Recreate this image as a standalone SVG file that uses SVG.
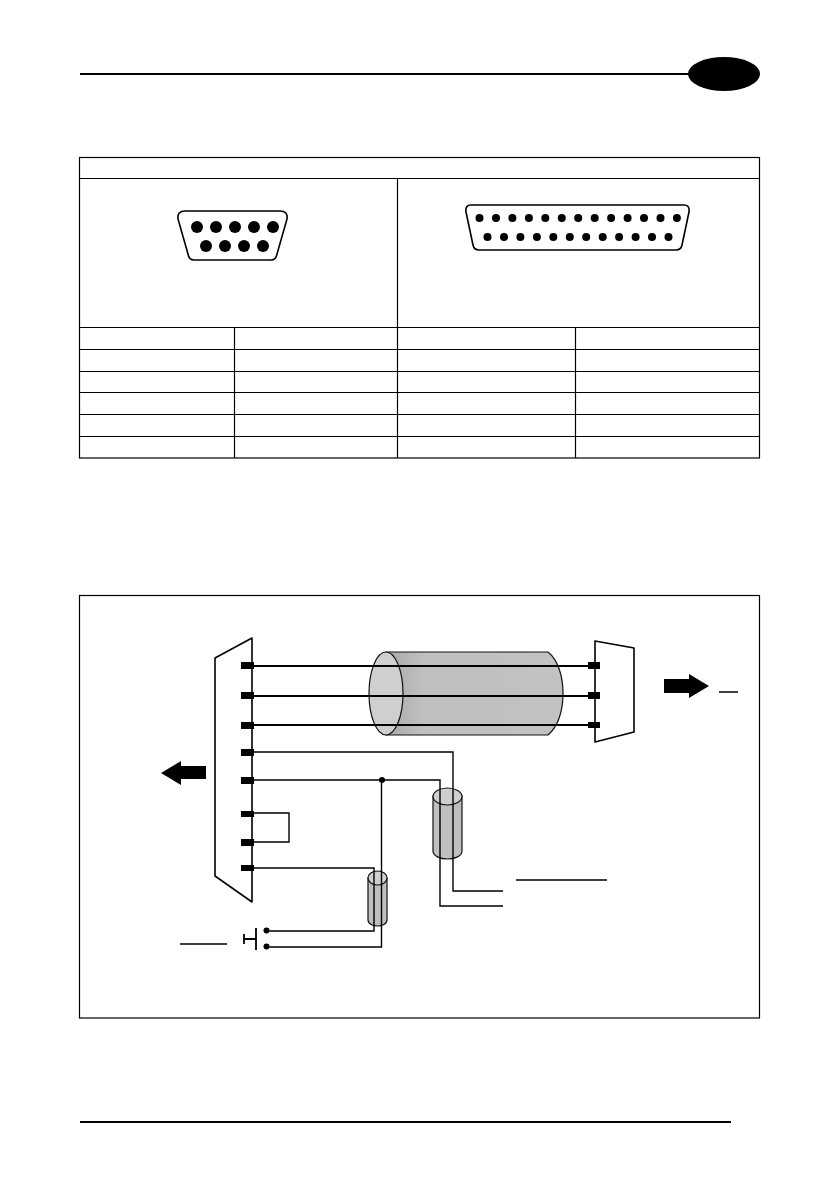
<svg xmlns="http://www.w3.org/2000/svg" width="839" height="1191" viewBox="0 0 839 1191">
<style>
.tb{fill:none;stroke:#000;stroke-width:1.2}
.cn{fill:#fff;stroke:#000;stroke-width:1.6;stroke-linejoin:round}
.sh{fill:#000;stroke:none}
.cy{fill:#bfbfbf;stroke:#111;stroke-width:1.2}
.cap{fill:#cfcfcf;stroke:#111;stroke-width:1.2}
.w{fill:none;stroke:#000;stroke-width:1.4}
.w2{fill:none;stroke:#000;stroke-width:1.8}
</style>
<defs>
<linearGradient id="g" x1="0" x2="1" y1="0" y2="0"><stop offset="0" stop-color="#a9a9a9"/><stop offset=".2" stop-color="#bfbfbf"/><stop offset="1" stop-color="#c2c2c2"/></linearGradient>
</defs>
<rect width="839" height="1191" fill="#fff"/>
<g id="header"><line x1="80" y1="74" x2="692" y2="74" stroke="#000" stroke-width="2"/><ellipse cx="724" cy="74" rx="36" ry="17" class="sh"/></g>
<g id="footer"><line x1="80" y1="1122" x2="731" y2="1122" stroke="#000" stroke-width="2"/></g>
<g id="table">
<rect x="79.5" y="157.5" width="680" height="300.500" class="tb"/>
<path class="tb" d="M79 178.500H760M79 327.500H760M79 349.500H760M79 371.500H760M79 392.500H760M79 414.500H760M79 436.500H760M397.500 178V458M234.500 327V458M575.500 327V458"/>
</g>
<g id="db9">
<path class="cn" d="M185 211H280Q288 211 287 219L277 254Q276 260 271 260H194Q189 260 188 254L178 219Q177 211 185 211Z"/>
<g class="sh"><circle cx="197" cy="227" r="6"/><circle cx="216" cy="227" r="6"/><circle cx="235" cy="227" r="6"/><circle cx="254" cy="227" r="6"/><circle cx="273" cy="227" r="6"/><circle cx="206" cy="246" r="6"/><circle cx="225" cy="246" r="6"/><circle cx="244" cy="246" r="6"/><circle cx="263" cy="246" r="6"/></g>
</g>
<g id="db25">
<path class="cn" d="M471 205H684Q690 205 689 212L682 245Q681 250 676 250H479Q474 250 473 245L466 212Q465 205 471 205Z" stroke-width="1.2"/>
<g class="sh"><circle cx="479.500" cy="218" r="4"/><circle cx="496" cy="218" r="4"/><circle cx="512.400" cy="218" r="4"/><circle cx="528.900" cy="218" r="4"/><circle cx="545.300" cy="218" r="4"/><circle cx="561.800" cy="218" r="4"/><circle cx="578.200" cy="218" r="4"/><circle cx="594.700" cy="218" r="4"/><circle cx="611.100" cy="218" r="4"/><circle cx="627.600" cy="218" r="4"/><circle cx="644" cy="218" r="4"/><circle cx="660.500" cy="218" r="4"/><circle cx="676.900" cy="218" r="4"/><circle cx="487.500" cy="237" r="4"/><circle cx="504" cy="237" r="4"/><circle cx="520.400" cy="237" r="4"/><circle cx="536.900" cy="237" r="4"/><circle cx="553.300" cy="237" r="4"/><circle cx="569.800" cy="237" r="4"/><circle cx="586.200" cy="237" r="4"/><circle cx="602.700" cy="237" r="4"/><circle cx="619.100" cy="237" r="4"/><circle cx="635.600" cy="237" r="4"/><circle cx="652" cy="237" r="4"/><circle cx="668.500" cy="237" r="4"/></g>
</g>
<g id="frame"><rect x="79.500" y="595.500" width="680" height="422.500" class="tb"/></g>
<g id="connector-left"><path class="cn" d="M215 658L252 638V902L215 876Z"/></g>
<g id="connector-right"><path class="cn" d="M595 641L634 648V732L595 742Z"/></g>
<g id="cable-main">
<path d="M386 652H548C558 660 563 676 563 693.500C563 711 558 727 548 735H386Z" fill="url(#g)" stroke="#111" stroke-width="1.200"/>
<ellipse cx="386" cy="693.500" rx="17" ry="41.500" class="cap"/>
</g>
<g id="cable-mid">
<path class="cy" d="M433 796V851C433 856 440 859 447.500 859C455 859 462 856 462 851V796Z"/>
<ellipse cx="447.500" cy="796.500" rx="14.500" ry="8.500" class="cap"/>
</g>
<g id="cable-small">
<path class="cy" d="M368 878V920C368 924 373 926 377.500 926C382 926 387 924 387 920V878Z"/>
<ellipse cx="377.500" cy="878" rx="9.500" ry="7" class="cap"/>
</g>
<g id="connectors">
<path class="w2" stroke-width="2" d="M254 666H590"/>
<path class="w2" d="M254 696H590M254 725H590"/>
<path class="w" d="M254 752H453V891H503M254 780H440V906H503"/>
<path class="w" d="M254 813H289V842H254"/>
<path class="w" d="M254 868H374V931H267M381.500 780V947H267"/>
<circle cx="382" cy="780" r="3" class="sh"/>
<circle cx="266.500" cy="930.500" r="3" class="sh"/>
<circle cx="266.500" cy="946.500" r="3" class="sh"/>
</g>
<g id="pins" class="sh">
<rect x="241" y="662" width="13" height="7"/><rect x="241" y="692" width="13" height="7"/><rect x="241" y="722" width="13" height="7"/><rect x="241" y="749" width="13" height="7"/><rect x="241" y="777" width="13" height="7"/><rect x="241" y="811" width="13" height="6"/><rect x="241" y="839" width="13" height="7"/><rect x="241" y="865" width="13" height="6"/>
<rect x="588" y="662" width="12" height="7"/><rect x="588" y="692" width="12" height="7"/><rect x="588" y="722" width="12" height="6"/>
</g>
<g id="switch"><path class="w2" d="M256 928V950M244 934V944M244 939H256"/></g>
<g id="arrow-right"><path class="sh" d="M664 679H689V674L709 686L689 698V693H664Z"/></g>
<g id="arrow-left"><path class="sh" d="M161 773L181 761V766H206V779H181V785Z"/></g>
<g id="rules"><path class="w" d="M719 692H738M516 880H607M180 944H227"/></g>
</svg>
